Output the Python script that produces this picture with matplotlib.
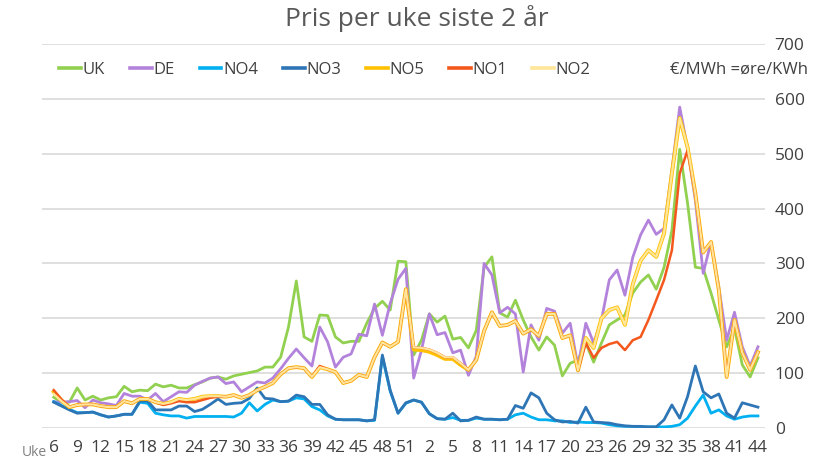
import matplotlib.pyplot as plt

plt.rcParams['font.family'] = ['Open Sans', 'DejaVu Sans']

# uke 6-52 første år, uke 1-44 andre år
weeks = list(range(6, 53)) + list(range(1, 45))

uk = [56, 47, 47, 73, 51, 58, 51, 55, 57, 76,
      66, 69, 68, 80, 75, 78, 73, 73, 79, 84,
      91, 93, 89, 95, 98, 101, 104, 111, 111, 129,
      184, 268, 166, 158, 206, 205, 166, 155, 158, 158,
      191, 218, 231, 215, 304, 303, 133, 160, 208, 193,
      204, 162, 165, 146, 178, 293, 312, 210, 202, 233,
      197, 166, 142, 166, 151, 95, 118, 124, 155, 120,
      155, 188, 197, 206, 246, 266, 279, 253, 293, 360,
      508, 410, 293, 291, 246, 197, 148, 182, 115, 93, 128]

de = [48, 47, 48, 50, 37, 51, 46, 44, 41, 63,
      58, 58, 51, 63, 48, 57, 66, 65, 78, 85,
      91, 93, 81, 84, 66, 75, 84, 82, 91, 108,
      127, 144, 128, 113, 184, 157, 111, 129, 135, 171,
      168, 226, 169, 227, 271, 291, 91, 142, 208, 170,
      174, 137, 142, 96, 131, 300, 279, 210, 220, 208,
      102, 188, 160, 218, 213, 173, 191, 112, 191, 155,
      197, 270, 288, 242, 311, 352, 379, 353, 364, 470,
      585, 510, 415, 282, 339, 257, 160, 211, 148, 113, 148]

no4 = [48, 41, 34, 28, 28, 29, 24, 20, 22, 25,
       25, 47, 45, 27, 24, 22, 22, 18, 21, 21,
       21, 21, 21, 20, 27, 46, 31, 43, 51, 48,
       49, 55, 53, 39, 33, 22, 16, 15, 15, 15,
       13, 14, 130, 67, 27, 45, 51, 47, 26, 17,
       16, 19, 14, 14, 18, 16, 16, 15, 16, 24,
       27, 20, 15, 15, 13, 13, 10, 11, 10, 10,
       9, 6, 4, 3, 3, 2, 2, 2, 2, 3,
       6, 18, 40, 60, 27, 33, 22, 16, 20, 22, 22]

no3 = [47, 40, 33, 27, 28, 29, 24, 20, 22, 25,
       25, 49, 49, 33, 33, 33, 40, 40, 30, 34,
       43, 53, 43, 45, 46, 54, 73, 54, 53, 48,
       49, 60, 57, 43, 43, 24, 16, 15, 15, 15,
       13, 15, 133, 69, 27, 46, 51, 47, 26, 17,
       16, 27, 13, 14, 20, 16, 16, 15, 16, 41,
       36, 64, 55, 27, 15, 11, 12, 9, 38, 11,
       10, 9, 6, 4, 3, 3, 2, 2, 15, 42,
       18, 57, 113, 66, 55, 62, 27, 18, 46, 42, 38]

no5 = [66, 50, 38, 42, 43, 43, 40, 38, 38, 49,
       45, 53, 53, 47, 44, 47, 53, 51, 53, 57,
       58, 58, 57, 60, 55, 60, 69, 75, 82, 98,
       109, 111, 109, 93, 111, 107, 102, 82, 86, 97,
       93, 129, 156, 148, 157, 253, 143, 142, 139, 133,
       126, 126, 115, 106, 124, 177, 211, 186, 188, 195,
       172, 180, 168, 208, 208, 164, 169, 105, 164, 146,
       200, 215, 220, 188, 262, 305, 324, 312, 355, 464,
       565, 512, 428, 320, 339, 251, 93, 197, 137, 106, 138]

no1 = [69, 52, 38, 42, 43, 43, 40, 38, 38, 49,
       45, 53, 53, 47, 42, 45, 49, 47, 47, 51,
       55, 57, 57, 60, 55, 60, 69, 75, 82, 98,
       109, 111, 109, 93, 113, 107, 102, 82, 86, 97,
       93, 129, 156, 148, 157, 253, 147, 146, 143, 137,
       129, 129, 118, 106, 124, 177, 211, 186, 188, 195,
       172, 180, 168, 208, 208, 164, 169, 105, 155, 128,
       146, 153, 157, 142, 160, 166, 197, 233, 270, 324,
       464, 506, 428, 320, 339, 251, 93, 197, 137, 106, 138]

no2 = [62, 49, 38, 42, 43, 43, 40, 38, 38, 49,
       45, 53, 53, 47, 44, 47, 53, 51, 53, 57,
       58, 58, 57, 60, 55, 60, 69, 75, 82, 98,
       109, 111, 109, 93, 111, 107, 102, 82, 86, 97,
       93, 129, 156, 148, 157, 253, 147, 146, 143, 137,
       129, 129, 118, 106, 124, 177, 211, 186, 188, 195,
       172, 180, 168, 208, 208, 164, 169, 105, 164, 146,
       200, 215, 220, 188, 262, 305, 324, 312, 355, 464,
       565, 512, 428, 320, 339, 251, 93, 197, 137, 106, 138]

series = [("UK", uk, "#92d050", 2.0),
          ("DE", de, "#b383dc", 2.0),
          ("NO4", no4, "#00b0f0", 2.0),
          ("NO3", no3, "#2e75b6", 2.0),
          ("NO5", no5, "#ffc000", 2.8),
          ("NO1", no1, "#f4581c", 1.8),
          ("NO2", no2, "#ffe699", 1.6)]

fig = plt.figure(figsize=(8.33, 4.62), dpi=100)
ax = fig.add_axes([42/833, 1-428/462, (765-42)/833, (428-44)/462])

x = list(range(len(weeks)))
for name, vals, col, lw in series:
    ax.plot(x, vals, color=col, lw=lw, label=name, solid_joinstyle='round')

ax.set_ylim(0, 700)
ax.set_xlim(-1.5, 90.9)
ax.set_yticks(range(0, 701, 100))
ax.yaxis.tick_right()
ax.grid(axis='y', color='#d9d9d9', lw=1.2)
ax.set_axisbelow(True)
for s in ax.spines.values():
    s.set_visible(False)
ax.tick_params(axis='y', length=0, pad=7, labelsize=12.5, labelcolor='#404040')
ax.set_xticks(x[::3])
ax.set_xticklabels(weeks[::3])
ax.tick_params(axis='x', length=0, pad=9, labelsize=12.5, labelcolor='#404040')

leg = fig.legend(ncol=7, loc='center', bbox_to_anchor=(325/833, 1-70/462),
                 frameon=False, fontsize=12, handlelength=1.3, handletextpad=0.1,
                 columnspacing=1.5, labelcolor='#404040')
for h in leg.legend_handles:
    h.set_linewidth(2.6)

fig.text(0.5, 1-19/462, "Pris per uke siste 2 år", ha='center', va='center',
         fontsize=19, color='#595959')
fig.text(808/833, 1-70/462, "€/MWh =øre/KWh", ha='right', va='center',
         fontsize=12, color='#404040')
fig.text(47/833, 1-452/462, "Uke", ha='right', va='center', fontsize=10, color='#808080')

fig.savefig("out.png", dpi=100)
